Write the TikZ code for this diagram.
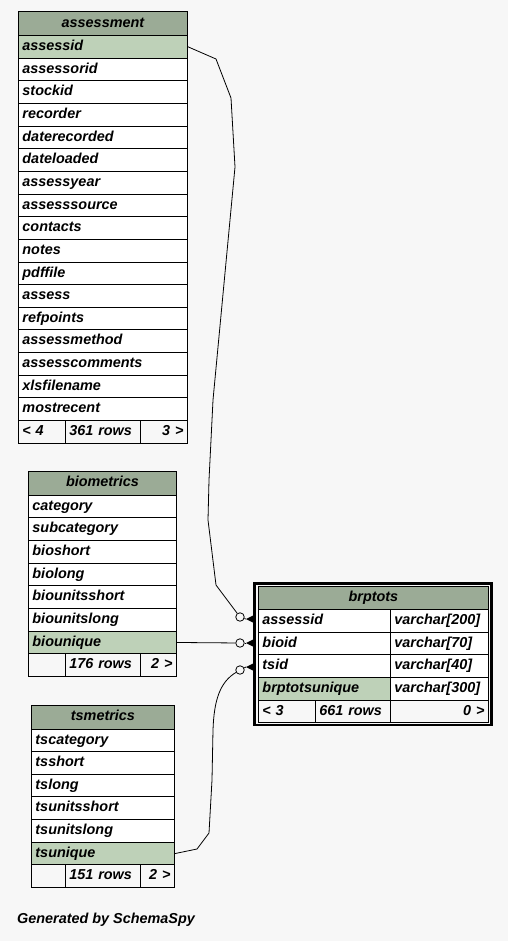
\documentclass[tikz,border=0pt]{standalone}
\usepackage{fontspec}
\setmainfont{Liberation Sans}
\begin{document}
\begin{tikzpicture}[x=1pt,y=-1pt,
  every node/.style={font=\fontsize{14.4}{16}\selectfont\bfseries\itshape},
  cell/.style={draw=black, line width=0.9pt, fill=white, anchor=north west, inner xsep=4pt, inner ysep=0pt, text height=10.5pt, text depth=3pt, minimum height=22.65pt, align=left},
  hdr/.style={cell, fill=hdrc, align=center, minimum height=23.5pt},
  pk/.style={cell, fill=pkc},
  foot/.style={cell, fill=bgc},
  conn/.style={draw=black, line width=0.8pt},
  odot/.style={circle, draw=black, line width=0.8pt, fill=bgc, minimum size=8.5pt, inner sep=0pt}
]
\definecolor{bgc}{HTML}{F7F7F7}
\definecolor{hdrc}{HTML}{9BAB96}
\definecolor{pkc}{HTML}{BED1B8}
\fill[bgc] (0,0) rectangle (508,941);
\useasboundingbox (0,0) rectangle (508,941);

% ---------- assessment ----------
\node[hdr, text width=161pt] (as-h) at (18,11.5) {assessment};
\node[pk, text width=161pt] (as-assessid) at (18,35) {assessid};
\foreach \t [count=\i from 1] in {assessorid,stockid,recorder,daterecorded,dateloaded,assessyear,assesssource,contacts,notes,pdffile,assess,refpoints,assessmethod,assesscomments,xlsfilename,mostrecent}
  \node[cell, text width=161pt] (as-\t) at (18,{35+\i*22.65}) {\t};
\node[foot, text width=39pt] (as-f1) at (18,420) {< 4};
\node[foot, text width=67pt] (as-f2) at (65,420) {361 rows};
\node[foot, text width=39pt, align=right] (as-f3) at (140,420) {3 >};

% ---------- biometrics ----------
\node[hdr, text width=140pt] (bm-h) at (28,471) {biometrics};
\foreach \t [count=\i from 0] in {category,subcategory,bioshort,biolong,biounitsshort,biounitslong}
  \node[cell, text width=140pt] (bm-\t) at (28,{494.5+\i*22.7}) {\t};
\node[pk, text width=140pt] (bm-biounique) at (28,630.7) {biounique};
\node[foot, text width=29pt] (bm-f1) at (28,653.4) {};
\node[foot, text width=67pt] (bm-f2) at (65,653.4) {176 rows};
\node[foot, text width=28pt, align=right] (bm-f3) at (140,653.4) {2 >};

% ---------- tsmetrics ----------
\node[hdr, text width=135pt] (ts-h) at (31,705) {tsmetrics};
\foreach \t [count=\i from 0] in {tscategory,tsshort,tslong,tsunitsshort,tsunitslong}
  \node[cell, text width=135pt] (ts-\t) at (31,{728.5+\i*22.65}) {\t};
\node[pk, text width=135pt] (ts-tsunique) at (31,841.8) {tsunique};
\node[foot, text width=26pt] (ts-f1) at (31,864.4) {};
\node[foot, text width=67pt] (ts-f2) at (65,864.4) {151 rows};
\node[foot, text width=26pt, align=right] (ts-f3) at (140,864.4) {2 >};

% ---------- brptots ----------
\draw[line width=2.5pt] (254.5,583.5) rectangle (491.5,725);
\node[hdr, text width=222pt, minimum height=23pt] (br-h) at (258,586) {brptots};
\foreach \t/\ty [count=\i from 0] in {assessid/varchar[200],bioid/varchar[70],tsid/varchar[40]}{
  \node[cell, text width=124pt] (br-\t) at (258,{609+\i*22.7}) {\t};
  \node[cell, text width=90pt] (br-\t-type) at (390,{609+\i*22.7}) {\ty};
}
\node[pk, text width=124pt] (br-brptotsunique) at (258,677.1) {brptotsunique};
\node[cell, text width=90pt] (br-brptotsunique-type) at (390,677.1) {varchar[300]};
\node[foot, text width=49pt] (br-f1) at (258,699.8) {< 3};
\node[foot, text width=67pt] (br-f2) at (315,699.8) {661 rows};
\node[foot, text width=90pt, align=right] (br-f3) at (390,699.8) {0 >};

% ---------- connector ends ----------
\node[odot] (c1) at (240,617) {};
\node[odot] (c2) at (240,643) {};
\node[odot] (c3) at (240,670) {};
\coordinate (k1) at (246,619);
\coordinate (k2) at (246,643);
\coordinate (k3) at (246,667);
\foreach \k in {1,2,3}{
  \fill (k\k) -- ++(9,-4.5) -- ++(0,9) -- cycle;
}

% ---------- connectors ----------
\draw[conn] (as-assessid.east) -- (216,59) -- (231,98) -- (235,167) -- (213,400) -- (209,480) -- (208,520) -- (216,585) -- (c1);
\draw[conn] (c1) -- (k1);
\draw[conn] (bm-biounique.east) -- (c2);
\draw[conn] (c2) -- (k2);
\draw[conn] (ts-tsunique.east) -- (197,849) -- (209,833) -- (212,780) -- (213,730) .. controls (214,700) and (220,682) .. (c3);
\draw[conn] (c3) -- (k3);

\node[anchor=west, inner sep=0pt] (gen) at (17,920) {Generated by SchemaSpy};
\end{tikzpicture}
\end{document}
